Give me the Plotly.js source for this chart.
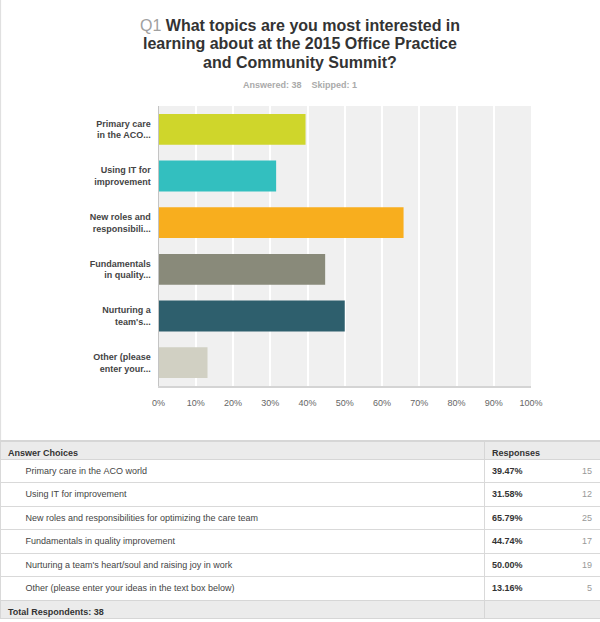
<!DOCTYPE html>
<html>
<head>
<meta charset="utf-8">
<script src="https://cdn.plot.ly/plotly-3.0.1.min.js"></script>
<style>
html,body{margin:0;padding:0;background:#fff;}
#chart{width:600px;height:622px;}
</style>
</head>
<body>
<div id="chart"></div>
<script>
// ---- data ----
var shortLabels = [
  "Primary care<br>in the ACO...",
  "Using IT for<br>improvement",
  "New roles and<br>responsibili...",
  "Fundamentals<br>in quality...",
  "Nurturing a<br>team's...",
  "Other (please<br>enter your..."
];
var answerChoices = [
  "Primary care in the ACO world",
  "Using IT for improvement",
  "New roles and responsibilities for optimizing the care team",
  "Fundamentals in quality improvement",
  "Nurturing a team's heart/soul and raising joy in work",
  "Other (please enter your ideas in the text box below)"
];
var percents = [39.47, 31.58, 65.79, 44.74, 50.00, 13.16];
var counts = [15, 12, 25, 17, 19, 5];
var answered = 38;
var skipped = 1;
var totalRespondents = 38;
var questionNo = "Q1";
var titleLines = [
  "What topics are you most interested in",
  "learning about at the 2015 Office Practice",
  "and Community Summit?"
];
var tickVals = [0,10,20,30,40,50,60,70,80,90,100];
var tickLabels = ['0%','10%','20%','30%','40%','50%','60%','70%','80%','90%','100%'];
var barColors = ['#cfd62b','#33bfbf','#f8ae1e','#898a7a','#2e5f6d','#d1d0c3'];

// ---- layout constants ----
var W = 600, H = 622;
var FONT = 'Liberation Sans, Arial, Helvetica, sans-serif';
function py(px){ return 1 - px / H; }
function pxx(px){ return px / W; }
// table text uses non-breaking spaces and no markup so that rows keep their fixed height
function nb(s){ return String(s).replace(/ /g, '\u00a0'); }

var tableTop = 441, headerH = 18, rowH = 23.5, totalH = 18;
var rowsEnd = tableTop + headerH + rowH * answerChoices.length;
var colSplit = 484;

var indent = '\u00a0\u00a0\u00a0\u00a0\u00a0\u00a0\u00a0';

var bar = {
  type: 'bar',
  orientation: 'h',
  x: percents,
  y: shortLabels,
  marker: {color: barColors},
  hoverinfo: 'x+y',
  xaxis: 'x', yaxis: 'y',
  showlegend: false
};

var tableMain = {
  type: 'table',
  domain: {x: [0, 1], y: [0, py(tableTop)]},
  columnwidth: [colSplit, W - colSplit],
  header: {
    values: [nb('Answer Choices'), 'Responses'],
    fill: {color: '#ebebeb'},
    line: {color: '#d6d6d6', width: 1},
    align: 'left',
    height: headerH,
    font: {family: FONT, size: 9, color: '#333', weight: 'bold'}
  },
  cells: {
    values: [
      answerChoices.map(function(s){ return indent + nb(s); }),
      percents.map(function(p){ return p.toFixed(2) + '%'; })
    ],
    fill: {color: '#ffffff'},
    line: {color: '#d9d9d9', width: 1},
    align: 'left',
    height: rowH,
    font: {family: FONT, size: 9, color: ['#444', '#333'], weight: ['normal', 'bold']}
  }
};

var tableCounts = {
  type: 'table',
  domain: {x: [pxx(colSplit), 1], y: [0, py(tableTop)]},
  header: {
    values: ['\u00a0'],
    fill: {color: 'rgba(0,0,0,0)'},
    line: {color: 'rgba(0,0,0,0)', width: 0},
    height: headerH,
    font: {family: FONT, size: 9, color: '#999'}
  },
  cells: {
    values: [counts.map(String)],
    fill: {color: 'rgba(0,0,0,0)'},
    line: {color: 'rgba(0,0,0,0)', width: 0},
    align: 'right',
    height: rowH,
    font: {family: FONT, size: 9, color: '#999'}
  }
};

var tableTotal = {
  type: 'table',
  domain: {x: [0, 1], y: [0, py(rowsEnd)]},
  columnwidth: [colSplit, W - colSplit],
  header: {
    values: [nb('Total Respondents: ' + totalRespondents), '\u00a0'],
    fill: {color: '#ebebeb'},
    line: {color: '#d6d6d6', width: 1},
    align: 'left',
    height: totalH,
    font: {family: FONT, size: 9, color: '#333', weight: 'bold'}
  },
  cells: {values: [[], []], height: 1}
};

var annotations = [];
var titleY = [25, 43.5, 62];
for (var i = 0; i < titleLines.length; i++) {
  var t = (i === 0 ? '<span style="color:#a0a0a0">' + questionNo + '</span> ' : '') + '<b>' + titleLines[i] + '</b>';
  annotations.push({
    xref: 'paper', yref: 'paper', x: 0.5, y: py(titleY[i]),
    xanchor: 'center', yanchor: 'middle', showarrow: false,
    text: t, font: {family: FONT, size: 16, color: '#333'}
  });
}
annotations.push({
  xref: 'paper', yref: 'paper', x: 0.5, y: py(85),
  xanchor: 'center', yanchor: 'middle', showarrow: false,
  text: '<b>Answered: ' + answered + '\u00a0\u00a0\u00a0\u00a0Skipped: ' + skipped + '</b>',
  font: {family: FONT, size: 9, color: '#aaaaaa'}
});

var layout = {
  width: W, height: H,
  margin: {l: 0, r: 0, t: 0, b: 0},
  paper_bgcolor: '#ffffff',
  plot_bgcolor: '#f0f0f0',
  font: {family: FONT},
  bargap: 0.34,
  xaxis: {
    domain: [pxx(158.5), pxx(531)],
    range: [0, 100],
    tickmode: 'array',
    tickvals: tickVals,
    ticktext: tickLabels,
    showgrid: true, gridcolor: '#ffffff', gridwidth: 1.5,
    zeroline: false,
    showline: true, linecolor: '#d4d4d4', linewidth: 2,
    ticks: '',
    ticklabelstandoff: 7,
    tickfont: {family: FONT, size: 9, color: '#666'},
    fixedrange: true
  },
  yaxis: {
    domain: [py(386), py(106)],
    autorange: 'reversed',
    showgrid: false, zeroline: false,
    showline: true, linecolor: '#c4c4c4', linewidth: 1,
    ticks: '', ticklabelstandoff: 5,
    tickfont: {family: FONT, size: 9, color: '#444', weight: 'bold'},
    fixedrange: true
  },
  annotations: annotations,
  shapes: [
    {type: 'line', xref: 'paper', yref: 'paper', x0: 0.001, x1: 0.001, y0: py(tableTop), y1: 1,
     line: {color: '#dddddd', width: 1}},
    {type: 'line', xref: 'paper', yref: 'paper', x0: 0, x1: 1, y0: py(tableTop), y1: py(tableTop),
     line: {color: '#d6d6d6', width: 2}}
  ]
};

Plotly.newPlot('chart', [bar, tableMain, tableCounts, tableTotal], layout, {displayModeBar: false});
</script>
</body>
</html>
